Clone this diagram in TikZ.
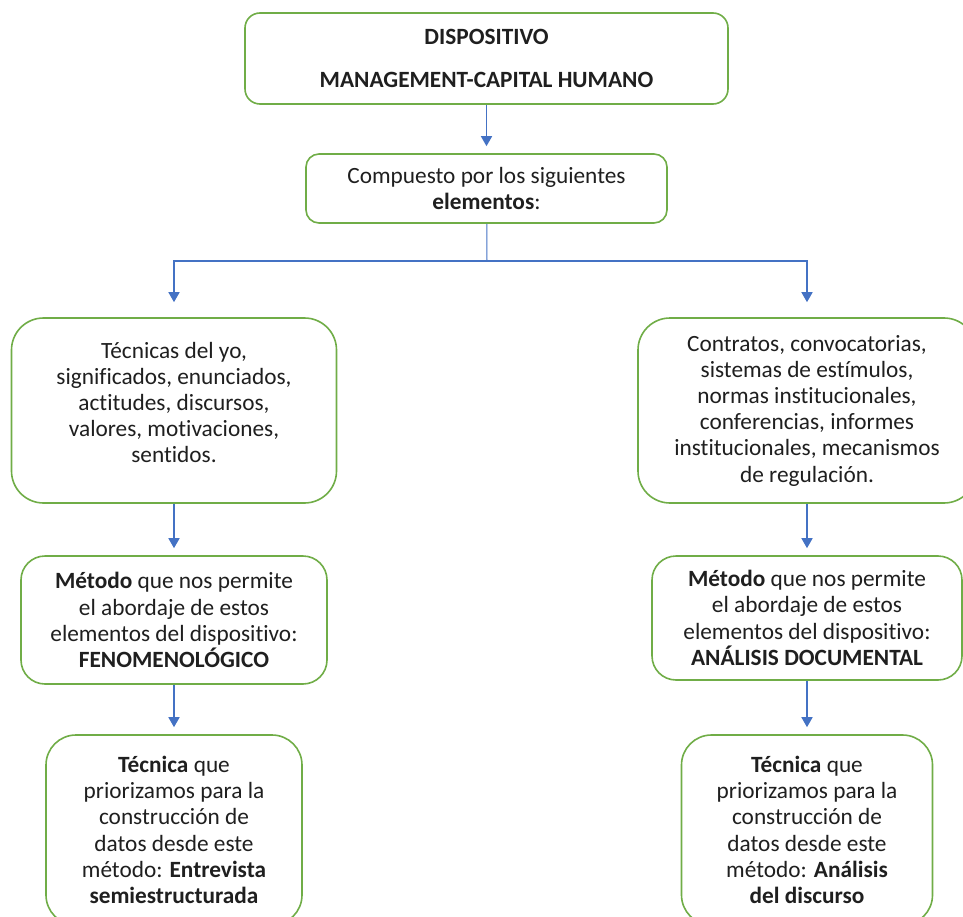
\documentclass[tikz,border=0pt]{standalone}
\usepackage{fontspec}
\setmainfont{Carlito}[Ligatures=NoCommon]
\usetikzlibrary{arrows.meta}

\definecolor{boxgreen}{HTML}{70AD47}
\definecolor{arrblue}{HTML}{4472C4}

\tikzset{
    box/.style={draw=boxgreen, line width=1.6pt, fill=white, align=center, inner sep=0pt,
                font=\fontsize{23.3}{26.2}\selectfont, text=black!88},
    arr/.style={draw=arrblue, line width=1.6pt, -{Triangle[width=11pt,length=10pt]}, shorten >=7pt},
    stem/.style={draw=arrblue, line width=1pt},
}

\begin{document}
\begin{tikzpicture}[x=1pt, y=-1pt]

    % Frame of the picture
    \useasboundingbox (0,0) rectangle (963,917);
    \clip (0,0) rectangle (963,917);

    \def\xl{174}     % left column
    \def\xr{807}     % right column

    % Top boxes
    \node[box, rounded corners=15pt, minimum width=483pt, minimum height=91pt] (disp) at (486.5,58.5)
        {\textbf{DISPOSITIVO}\\[16pt]\textbf{MANAGEMENT-CAPITAL HUMANO}};
    \node[box, rounded corners=13pt, minimum width=361pt, minimum height=69pt] (comp) at (486.5,188.5)
        {Compuesto por los siguientes\\\textbf{elementos}:};

    % Elements
    \node[box, rounded corners=32pt, minimum width=325pt, minimum height=185pt] (tecl) at (\xl,410.5)
        {Técnicas del yo,\\significados, enunciados,\\actitudes, discursos,\\valores, motivaciones,\\sentidos.\\[-10pt]\mbox{}};
    \node[box, rounded corners=32pt, minimum width=338pt, minimum height=185pt] (tecr) at (\xr,410.5)
        {Contratos, convocatorias,\\sistemas de estímulos,\\normas institucionales,\\conferencias, informes\\institucionales, mecanismos\\de regulación.};

    % Methods
    \node[box, rounded corners=24pt, minimum width=306pt, minimum height=128pt] (metl) at (\xl,620)
        {\textbf{Método} que nos permite\\el abordaje de estos\\elementos del dispositivo:\\\textbf{FENOMENOLÓGICO}};
    \node[box, rounded corners=24pt, minimum width=310pt, minimum height=124pt] (metr) at (\xr,618)
        {\textbf{Método} que nos permite\\el abordaje de estos\\elementos del dispositivo:\\\textbf{ANÁLISIS DOCUMENTAL}};

    % Techniques
    \node[box, rounded corners=30pt, minimum width=256pt, minimum height=190pt] (tnql) at (\xl,830)
        {\textbf{Técnica} que\\priorizamos para la\\construcción de\\datos desde este\\método: \textbf{Entrevista}\\\textbf{semiestructurada}};
    \node[box, rounded corners=30pt, minimum width=251pt, minimum height=190pt] (tnqr) at (\xr,830)
        {\textbf{Técnica} que\\priorizamos para la\\construcción de\\datos desde este\\método: \textbf{Análisis}\\\textbf{del discurso}};

    % Connectors
    \coordinate (split) at (487,261);
    \draw[arr] (disp) -- (comp);
    \draw[stem] (comp) -- (split);
    \draw[arr, shorten >=15pt] (split) -| (tecl);
    \draw[arr, shorten >=15pt] (split) -| (tecr);
    \draw[arr] (tecl) -- (metl);
    \draw[arr] (tecr) -- (metr);
    \draw[arr] (metl) -- (tnql);
    \draw[arr] (metr) -- (tnqr);

\end{tikzpicture}
\end{document}
